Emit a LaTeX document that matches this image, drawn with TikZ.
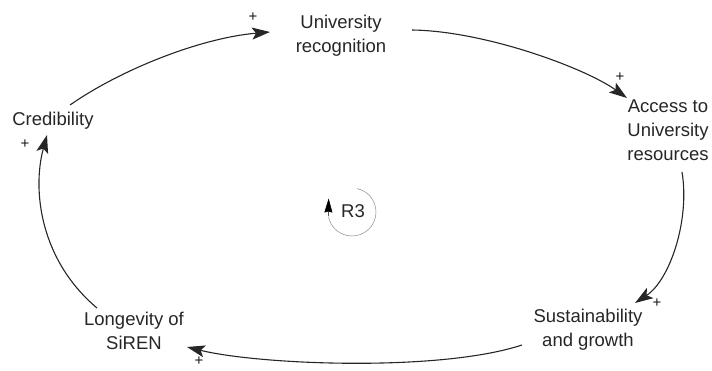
\documentclass[tikz,border=0pt]{standalone}
\usepackage{fontspec}
\setmainfont{Liberation Sans}
\usetikzlibrary{arrows.meta,calc}
\begin{document}
\begin{tikzpicture}[x=1pt,y=1pt,
  var/.style={inner sep=0pt,align=center,font=\fontsize{18.5}{24}\selectfont,text=black!85},
  pol/.style={inner sep=0pt,font=\fontsize{15}{15}\selectfont,text=black!90},
  link/.style={line width=1.1pt,draw=black!85,-{Stealth[length=18pt,width=12pt,inset=4pt]}},
  loopline/.style={line width=0.5pt,draw=black!45}]
\useasboundingbox (0,0) rectangle (712,-370);
\node[var] (cred)   at (53,-121)  {Credibility};
\node[var] (univ)   at (341,-36)  {University\\recognition};
\node[var] (access) at (668,-130) {Access to\\University\\resources};
\node[var] (sust)   at (588,-330) {Sustainability\\and growth};
\node[var] (longev) at (134,-331) {Longevity of\\SiREN};
\node[var] (r3)     at (353,-211) {R3};
% connectors
\draw[link] ([shift={(17,16)}]cred.center) .. controls +(50,35) and +(-70,-6) .. ([shift={(-71,4)}]univ.center);
\draw[link] ([shift={(71,6)}]univ.center) .. controls +(73,-1) and +(-42,30) .. ([shift={(-41,32)}]access.center);
\draw[link] ([shift={(14,-42)}]access.center) .. controls +(8,-48) and +(35,23) .. ([shift={(47,27)}]sust.center);
\draw[link] ([shift={(-66,-15)}]sust.center) .. controls +(-82,-27) and +(73,-18) .. ([shift={(53,-16)}]longev.center);
\draw[link] ([shift={(-37,23)}]longev.center) .. controls +(-57,48) and +(-15,-55) .. ([shift={(-6,-14)}]cred.center);
% polarities
\node[pol] (p1) at (253,-17) {+};
\node[pol] (p2) at (620,-77) {+};
\node[pol] (p3) at (657,-303) {+};
\node[pol] (p4) at (199,-361) {+};
\node[pol] (p5) at (25,-144) {+};
% loop marker
\coordinate (lc) at ([shift={(-1,-1)}]r3.center);
\draw[loopline] ([shift={(78:24)}]lc) arc[start angle=78, end angle=-168, radius=24];
\draw[draw=black,line width=0.6pt,-{Stealth[length=14pt,width=8pt,inset=1pt]}] ([shift={(-170:24)}]lc) -- ([shift={(150:27)}]lc);
\end{tikzpicture}
\end{document}
